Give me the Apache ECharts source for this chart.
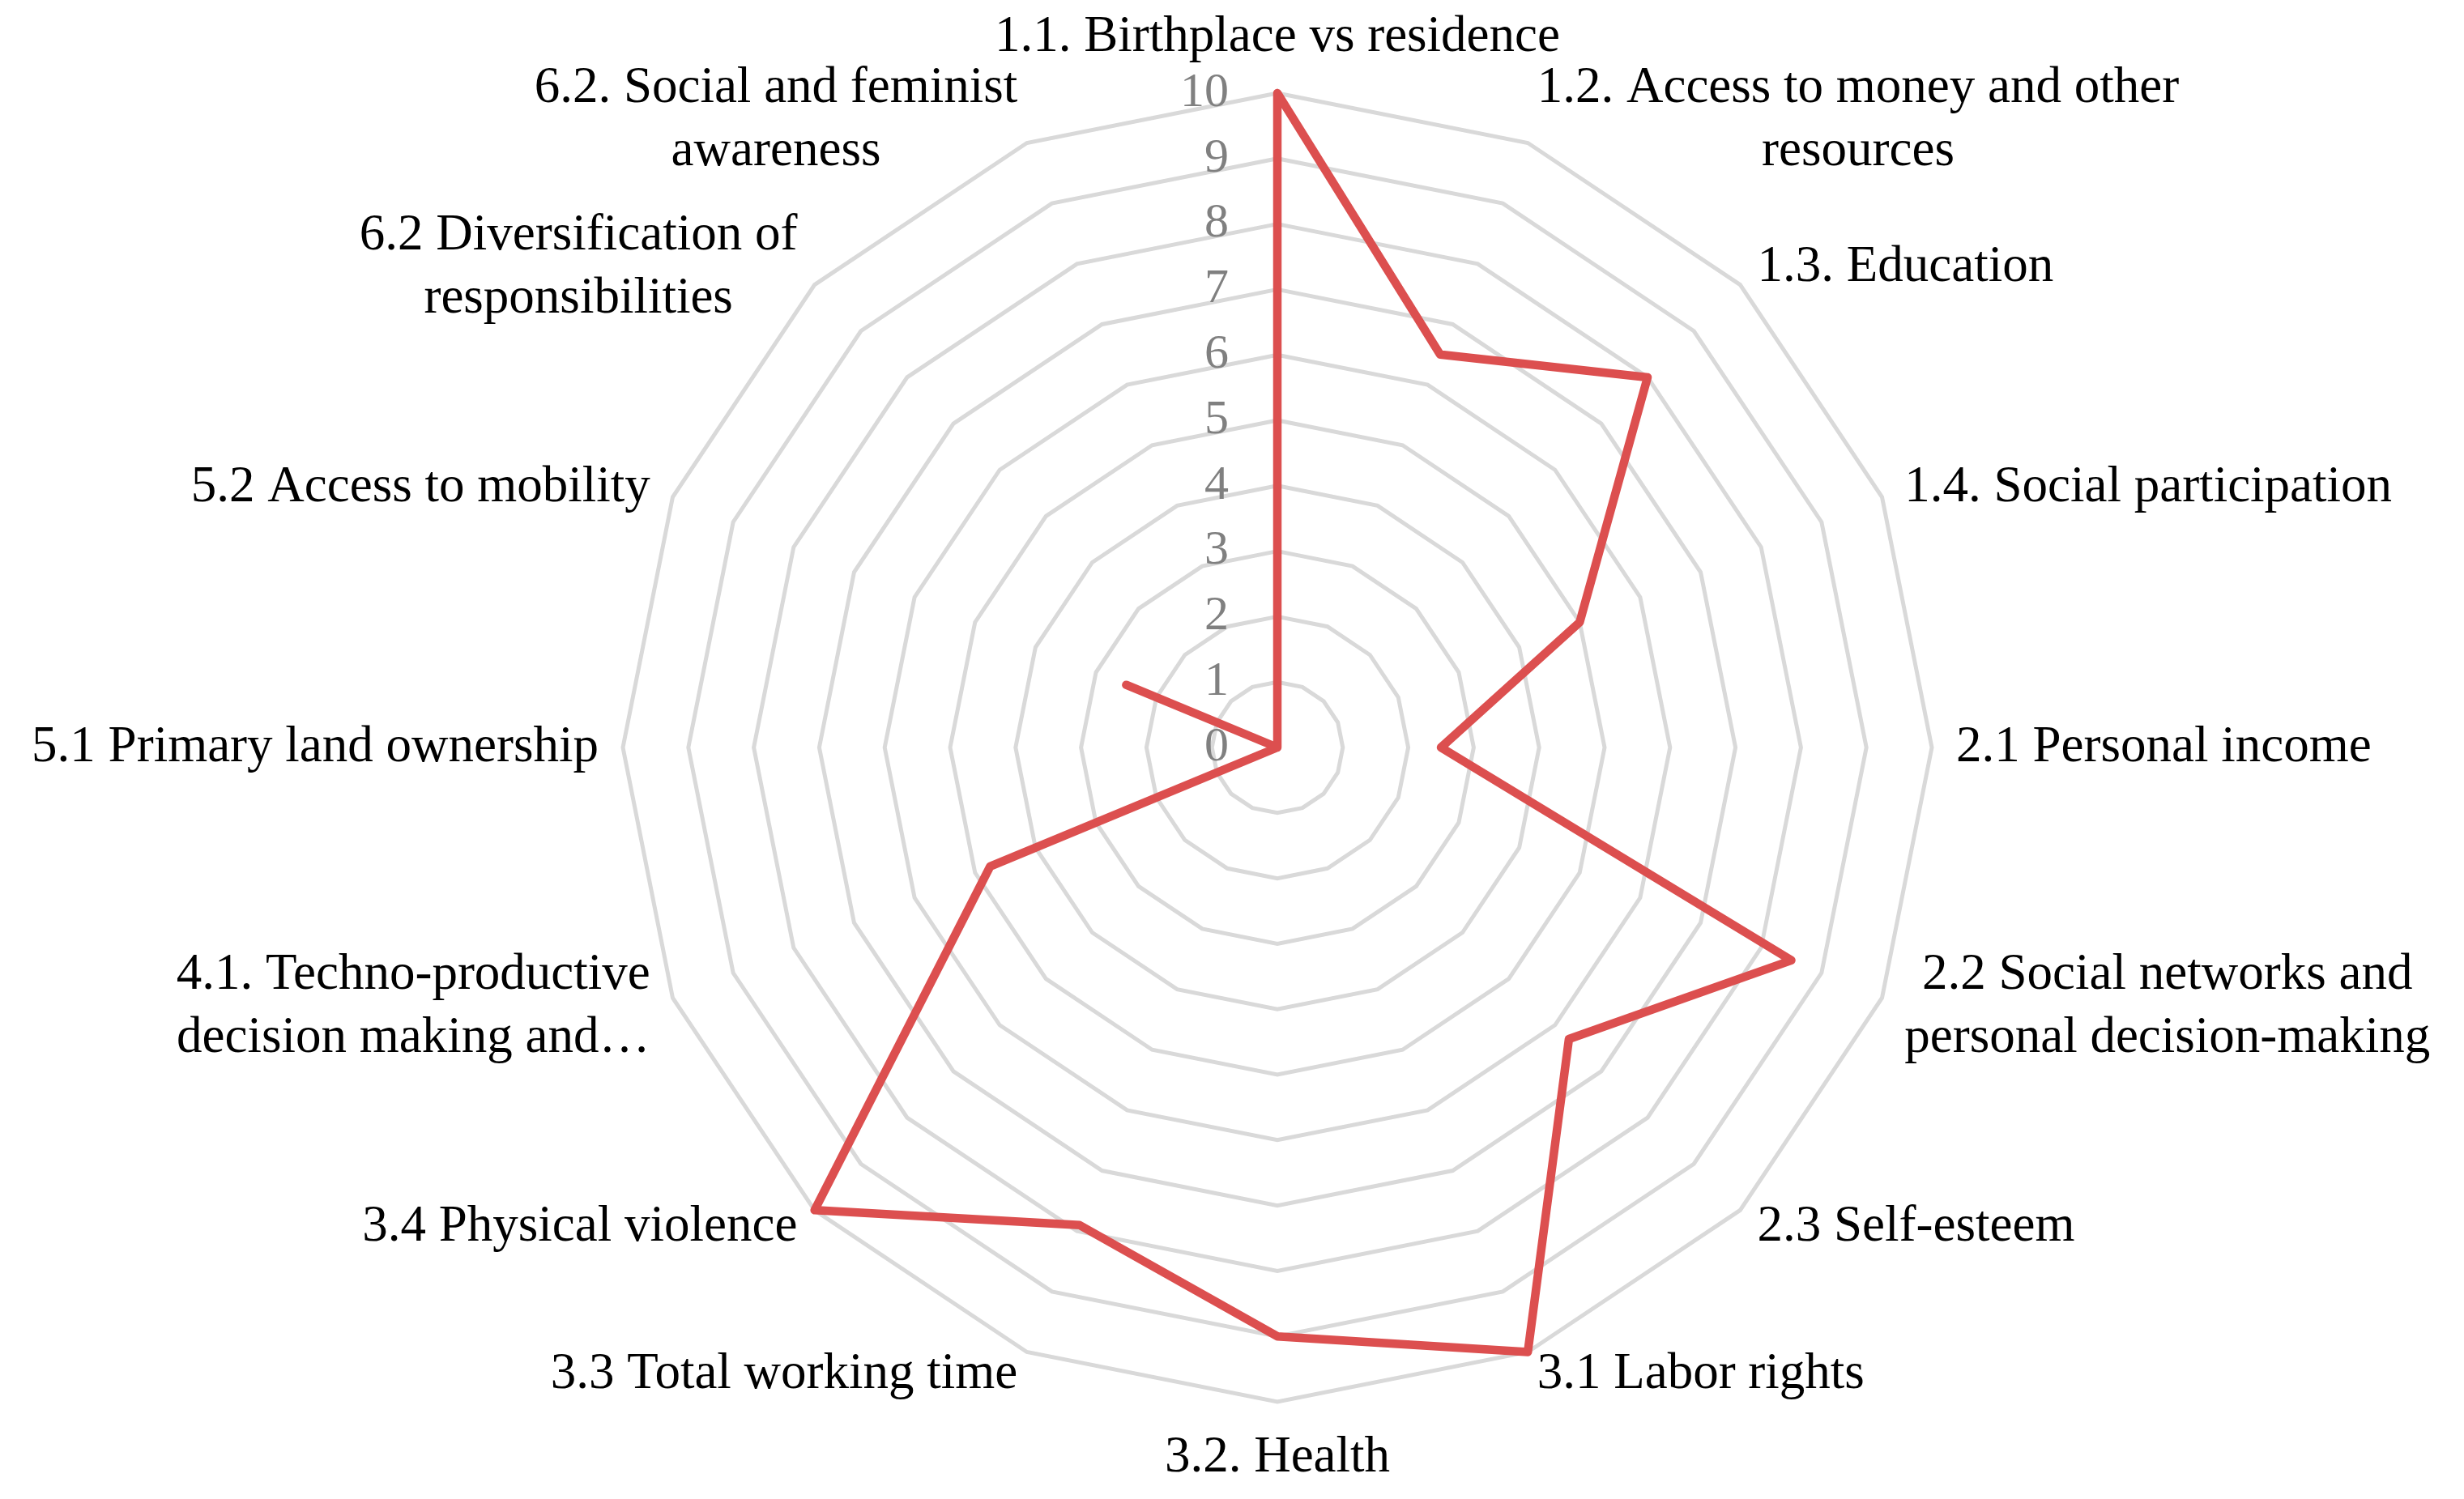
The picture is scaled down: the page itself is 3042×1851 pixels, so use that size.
<!DOCTYPE html>
<html><head><meta charset="utf-8">
<script src="https://cdn.jsdelivr.net/npm/echarts@6/dist/echarts.min.js"></script>
<style>html,body{margin:0;padding:0;background:#fff}#c{width:3042px;height:1851px}</style>
</head><body><div id="c"></div>
<script>
// Categories in clockwise order starting at the top
const categories = [
  "1.1. Birthplace vs residence",
  "1.2. Access to money and other\nresources",
  "1.3. Education",
  "1.4. Social participation",
  "2.1 Personal income",
  "2.2 Social networks and\npersonal decision-making",
  "2.3 Self-esteem",
  "3.1 Labor rights",
  "3.2. Health",
  "3.3 Total working time",
  "3.4 Physical violence",
  "4.1. Techno-productive\ndecision making and\u2026",
  "5.1 Primary land ownership",
  "5.2 Access to mobility",
  "6.2 Diversification of\nresponsibilities",
  "6.2. Social and feminist\nawareness"
];
const values = [10, 6.5, 8, 5, 2.5, 8.5, 6.3, 10, 9, 7.9, 10, 4.75, 0, 2.5, 0, 0];
const axisMin = 0;
const axisMax = 10;
const splitCount = 10;

// ECharts lays radar indicators counter-clockwise; reorder so they read clockwise
const order = [0];
for (let i = categories.length - 1; i >= 1; i--) order.push(i);

const FONT = '"Liberation Serif", "Times New Roman", serif';

const indicators = order.map((idx, k) => {
  const ind = { name: categories[idx], min: axisMin, max: axisMax };
  if (k === 0) {
    ind.axisLabel = { show: true };
  }
  return ind;
});

const chart = echarts.init(document.getElementById('c'), null, { renderer: 'canvas' });
chart.setOption({
  backgroundColor: '#ffffff',
  animation: false,
  radar: {
    center: [1577, 923],
    radius: 808,
    startAngle: 90,
    shape: 'polygon',
    splitNumber: splitCount,
    indicator: indicators,
    axisName: {
      color: '#000000',
      fontSize: 63,
      fontFamily: FONT,
      lineHeight: 78,
      formatter: function (name) {
        return name.split('\n').map(s => '{c|' + s + '}').join('\n');
      },
      rich: {
        c: { align: 'center', color: '#000000', fontSize: 63, fontFamily: FONT, lineHeight: 78 }
      }
    },
    nameGap: 30,
    axisLine: { show: false },
    axisTick: { show: false },
    axisLabel: {
      show: false,
      color: '#808080',
      fontSize: 60,
      fontFamily: FONT,
      margin: 60
    },
    splitLine: { show: true, lineStyle: { color: '#d9d9d9', width: 5 } },
    splitArea: { show: false }
  },
  series: [{
    type: 'radar',
    symbol: 'none',
    z: 5,
    lineStyle: { color: '#dc4f4f', width: 10.5, join: 'round', cap: 'round' },
    data: [{ value: order.map(i => values[i]) }]
  }]
});
</script></body></html>
